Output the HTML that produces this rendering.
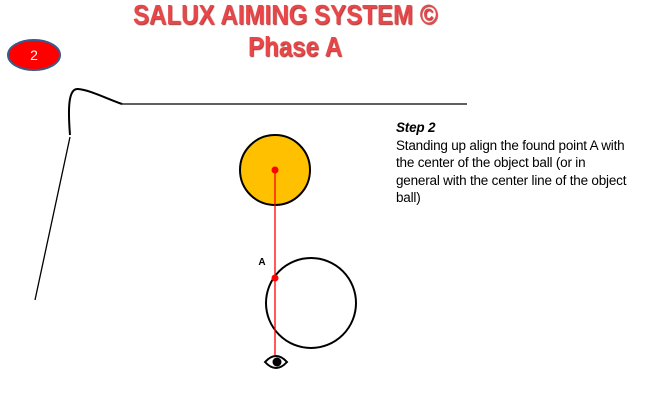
<!DOCTYPE html>
<html><head><meta charset="utf-8"><style>
body{margin:0;width:645px;height:415px;background:#fff;overflow:hidden;position:relative;font-family:"Liberation Sans",sans-serif}
.t{position:absolute;color:#e8474a;font-weight:bold;font-size:28px;text-shadow:1px 1px 1px #a33;white-space:nowrap;transform:scaleX(0.86);transform-origin:0 0}
.txt{position:absolute;left:396px;top:119px;font-size:13.5px;line-height:17.5px;color:#000;white-space:nowrap;letter-spacing:-0.2px}
</style></head><body>
<div class="t" style="top:-1px;left:133px">SALUX AIMING SYSTEM ©</div>
<div class="t" style="top:31px;left:248px">Phase A</div>
<svg width="645" height="415" style="position:absolute;left:0;top:0">
<ellipse cx="34" cy="55" rx="26" ry="15" fill="#f00" stroke="#3a5a8a" stroke-width="2"/>
<text x="34" y="60" font-size="14" fill="#fff" text-anchor="middle" font-family="Liberation Sans">2</text>
<path d="M70,135 C68,110 68,88 78,89 C90,90 105,98 122,104" fill="none" stroke="#000" stroke-width="2"/>
<line x1="122" y1="104" x2="467" y2="104" stroke="#000" stroke-width="1.3"/>
<line x1="70" y1="137" x2="35" y2="300" stroke="#000" stroke-width="1.3"/>
<circle cx="275" cy="170" r="35" fill="#ffc000" stroke="#000" stroke-width="2"/>
<circle cx="311" cy="303" r="45" fill="none" stroke="#000" stroke-width="2"/>
<line x1="275" y1="170" x2="275" y2="355" stroke="#f00" stroke-width="1.3"/>
<circle cx="275" cy="170" r="3.5" fill="#f00"/>
<circle cx="275" cy="278" r="3.5" fill="#f00"/>
<text x="262" y="265" font-size="10" font-weight="bold" fill="#000" text-anchor="middle" font-family="Liberation Sans">A</text>
<path d="M265,362 Q276,350 287,362 Q276,374 265,362 Z" fill="#fff" stroke="#000" stroke-width="2"/>
<circle cx="277" cy="362" r="4.5" fill="#000"/>
</svg>
<div class="txt"><b><i>Step 2</i></b><br>Standing up align the found point A with<br>the center of the object ball (or in<br>general with the center line of the object<br>ball)</div>
</body></html>
